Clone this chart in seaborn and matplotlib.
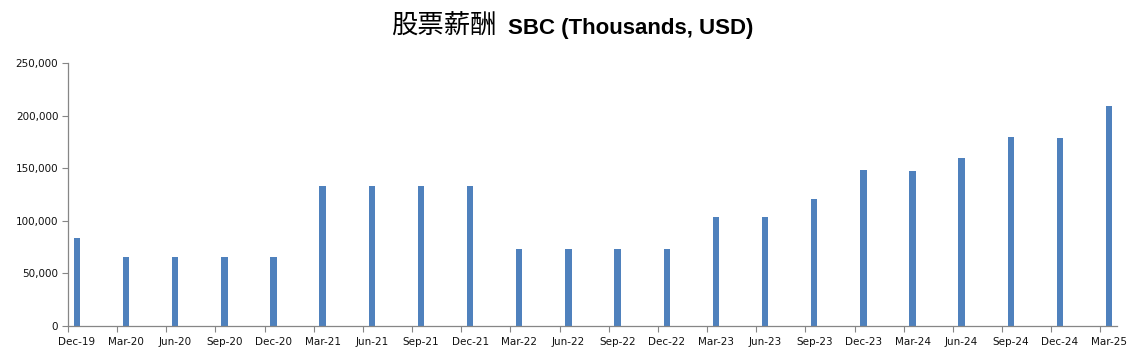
import matplotlib
matplotlib.use("Agg")
import matplotlib.pyplot as plt
import matplotlib.ticker as mticker
import pandas as pd
import seaborn as sns

# quarters and SBC values (thousands USD)
quarters = ['Dec-19', 'Mar-20', 'Jun-20', 'Sep-20', 'Dec-20', 'Mar-21', 'Jun-21', 'Sep-21',
            'Dec-21', 'Mar-22', 'Jun-22', 'Sep-22', 'Dec-22', 'Mar-23', 'Jun-23', 'Sep-23',
            'Dec-23', 'Mar-24', 'Jun-24', 'Sep-24', 'Dec-24', 'Mar-25']
sbc = [83800, 65800, 65800, 65800, 65800, 132900, 132900, 132900,
       132900, 73100, 73100, 73100, 73100, 103500, 103500, 120600,
       148100, 147200, 159500, 179400, 178500, 208900]
y_ticks = [0, 50000, 100000, 150000, 200000, 250000]

title_cn = '股票薪酬'
title_en = 'SBC (Thousands, USD)'

df = pd.DataFrame({'quarter': quarters, 'sbc': sbc})

sns.set_style('white')
plt.rcParams['font.family'] = ['DejaVu Sans', 'Noto Sans CJK SC']

fig = plt.figure(figsize=(11.43, 3.63), dpi=100)
ax = fig.add_axes([68 / 1143, 1 - 326 / 363, (1117 - 68) / 1143, (326 - 63) / 363])

sns.barplot(data=df, x='quarter', y='sbc', color='#4F81BD', saturation=1,
            width=0.13, linewidth=0, ax=ax)

ax.set_xlim(-0.18, len(quarters) - 1 + 0.16)
ax.set_ylim(0, 250000)
ax.set_yticks(y_ticks)
ax.yaxis.set_major_formatter(mticker.FuncFormatter(lambda v, p: f'{int(v):,}'))

# excel-style: labels under bars, tick marks just left of them
ax.set_xticks(range(len(quarters)))
ax.set_xticklabels(quarters)
ax.set_xticks([i - 0.18 for i in range(len(quarters))], minor=True)
ax.tick_params(axis='x', which='major', length=0, pad=8, labelsize=7.5, labelcolor='#111111')
ax.tick_params(axis='x', which='minor', length=4, width=0.8, color='#868686', direction='out')
ax.tick_params(axis='y', length=4, width=0.8, color='#868686', direction='out',
               labelsize=7.5, labelcolor='#111111', pad=3)
ax.tick_params(axis='both', which='both', bottom=True, left=True)

ax.set_xlabel('')
ax.set_ylabel('')
for s in ['top', 'right']:
    ax.spines[s].set_visible(False)
for s in ['left', 'bottom']:
    ax.spines[s].set_color('#868686')
    ax.spines[s].set_linewidth(0.9)

fig.text(497 / 1143, 1 - 34 / 363, title_cn, ha='right', va='baseline', color='black',
         fontsize=19, family=['Noto Sans CJK SC'])
fig.text(508 / 1143, 1 - 34 / 363, title_en, ha='left', va='baseline', color='black',
         fontsize=16, fontweight='bold', family=['Liberation Sans'])

fig.savefig('out.png', dpi=100)
